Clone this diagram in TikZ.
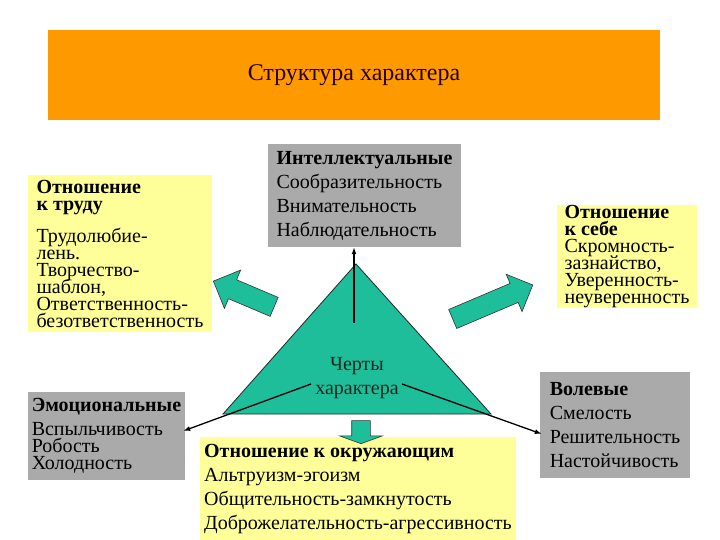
\documentclass[tikz,border=0pt]{standalone}
\usepackage{fontspec}
\setmainfont{Liberation Serif}
\usetikzlibrary{shapes.arrows,arrows.meta,calc}
\definecolor{titleorange}{RGB}{255,153,0}
\definecolor{titletext}{RGB}{40,0,0}
\definecolor{boxyellow}{RGB}{255,255,153}
\definecolor{boxgray}{RGB}{170,170,170}
\definecolor{traitteal}{RGB}{31,190,155}
\definecolor{traittext}{RGB}{20,40,32}
\newcommand\tightfont{\fontsize{20}{17}\selectfont\lineskiplimit-20pt\lineskip0pt\relax}
\tikzset{
  wide/.style={font=\fontsize{20}{24}\selectfont, align=left, inner sep=0pt},
  tight/.style={font=\tightfont, align=left, inner sep=0pt},
  fatarrow/.style={single arrow, fill=traitteal, draw=black!80, line width=0.6pt, inner xsep=0pt, inner ysep=10pt, single arrow tip angle=90},
  conn/.style={line width=1.3pt, -{Latex[length=7pt,width=5pt]}}
}

\begin{document}
\begin{tikzpicture}[x=1pt,y=-1pt]
\useasboundingbox (0,0) rectangle (720,540);

\node[fill=titleorange, text=titletext, minimum width=612pt, minimum height=90pt, font=\fontsize{24}{28}\selectfont] (title) at (354,75) {Структура характера};

\node[tight, fill=boxyellow, minimum width=184pt, minimum height=157pt] (work) at (120,253.5) {\textbf{Отношение}\\\textbf{к труду}\\[15pt]Трудолюбие-\\лень.\\Творчество-\\шаблон,\\Ответственность-\\безответственность};
\node[wide, fill=boxgray, minimum width=193pt, minimum height=103pt] (intel) at (364.5,195.5) {\textbf{Интеллектуальные}\\Сообразительность\\Внимательность\\Наблюдательность};
\node[tight, fill=boxyellow, minimum width=140pt, minimum height=103pt] (self) at (627,256.5) {\textbf{Отношение}\\\textbf{к себе}\\Скромность-\\зазнайство,\\Уверенность-\\неуверенность};
\node[tight, fill=boxgray, minimum width=157pt, minimum height=88pt] (emo) at (106.5,436) {\textbf{Эмоциональные}\\[7pt]Вспыльчивость\\Робость\\Холодность};
\node[wide, fill=boxgray, minimum width=150pt, minimum height=106pt] (will) at (615,425) {\textbf{Волевые}\\Смелость\\Решительность\\Настойчивость};
\node[wide, fill=boxyellow, minimum width=316pt, minimum height=104pt] (others) at (358,489) {\textbf{Отношение к окружающим}\\Альтруизм-эгоизм\\Общительность-замкнутость\\Доброжелательность-агрессивность};

\coordinate (apex) at (356,264);
\coordinate (baseL) at (223,414);
\coordinate (baseR) at (491,414);
\draw[fill=traitteal, draw=black!85, line width=0.8pt] (apex) -- (baseL) -- (baseR) -- cycle;
\node[font=\fontsize{20}{24}\selectfont, text=traittext, align=center] (traits) at (357,378) {Черты\\характера};

\coordinate (up) at (354,323);
\coordinate (lft) at (311,384);
\coordinate (rgt) at (402,384);
\draw[conn] (up) -- (up |- intel.south);
\draw[conn] (lft) -- ($(emo.east)+(-2,-5)$);
\draw[conn] (rgt) -- ($(will.west)+(2,9)$);

\node[fatarrow, minimum height=66pt, single arrow head extend=10.5pt, rotate=157] (toWork) at (248.5,296) {};
\node[fatarrow, minimum height=87pt, single arrow head extend=10pt, rotate=23] (toSelf) at (488,304) {};
\node[fatarrow, minimum height=23pt, inner ysep=9pt, single arrow head extend=12pt, single arrow tip angle=140, rotate=-90] (toOthers) at (361,430.5) {};
\end{tikzpicture}
\end{document}
